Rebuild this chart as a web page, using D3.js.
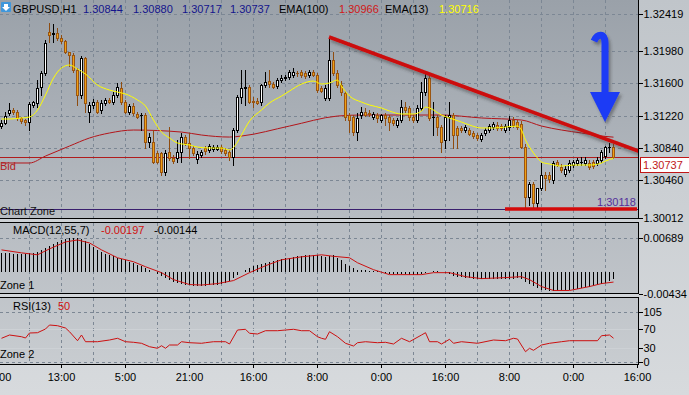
<!DOCTYPE html>
<html><head><meta charset="utf-8">
<script src="https://cdn.jsdelivr.net/npm/d3@7"></script>
<style>
html,body{margin:0;padding:0;overflow:hidden;background:#cdd1d5}
svg{display:block;font-family:"Liberation Sans",Arial,sans-serif;font-size:11px}
</style></head><body>
<svg id="c" width="689" height="395"></svg>
<script>
// ---------- DATA ----------
const symbol = "GBPUSD,H1";
const lastOHLC = [1.30844, 1.30880, 1.30717, 1.30737];
const ema100Last = 1.30966, ema13Last = 1.30716;
const bidPrice = 1.30737;
const lowLevel = 1.30118;

const timeLabels = ["21:00","13:00","5:00","21:00","16:00","8:00","0:00","16:00","8:00","0:00","16:00"];
const timeLabelIdx = [-1,15,31,47,63,79,95,111,127,143,159];
const priceTicks = [1.32419,1.31980,1.31600,1.31220,1.30840,1.30460,1.30012];
const priceGrid = [1.32419,1.31980,1.31600,1.31220,1.30840,1.30460];
const macdTicks = [0.00689,-0.00434];
const rsiTicks = [105,70,30,0];

const open = [
1.31097,1.31133,1.31251,1.31286,1.31262,1.31192,1.31168,1.31144,1.31345,1.31369,
1.31557,1.31723,1.32206,1.32183,1.32195,1.32136,1.32100,1.31970,1.31935,1.31758,
1.31463,1.31900,1.31262,1.31345,1.31380,1.31286,1.31369,1.31404,1.31380,1.31463,
1.31546,1.31380,1.31262,1.31333,1.31239,1.31227,1.31227,1.30908,1.30908,1.30779,
1.30779,1.30554,1.30790,1.30720,1.30720,1.30790,1.30967,1.30897,1.30838,1.30708,
1.30755,1.30838,1.30814,1.30826,1.30826,1.30849,1.30814,1.30790,1.30731,1.31050,
1.31439,1.31546,1.31557,1.31392,1.31392,1.31380,1.31581,1.31628,1.31593,1.31569,
1.31640,1.31664,1.31675,1.31699,1.31723,1.31734,1.31723,1.31699,1.31734,1.31699,
1.31546,1.31428,1.31428,1.31876,1.31723,1.31581,1.31487,1.31227,1.31203,1.31026,
1.31227,1.31262,1.31251,1.31203,1.31227,1.31168,1.31227,1.31203,1.31168,1.31109,
1.31168,1.31321,1.31310,1.31203,1.31168,1.31310,1.31498,1.31664,1.31203,1.31203,
1.31085,1.30932,1.31203,1.31227,1.31074,1.31074,1.31050,1.31050,1.31015,1.30991,
1.30944,1.31015,1.31050,1.31085,1.31109,1.31097,1.31050,1.31085,1.31168,1.31144,
1.31121,1.30849,1.30259,1.30413,1.30189,1.30366,1.30519,1.30519,1.30460,1.30672,
1.30613,1.30531,1.30578,1.30637,1.30661,1.30672,1.30661,1.30661,1.30672,1.30661,
1.30696,1.30743,1.30849,1.30844];
const high = [
1.31168,1.31262,1.31369,1.31310,1.31286,1.31203,1.31180,1.31380,1.31392,1.31640,
1.31746,1.32112,1.32313,1.32301,1.32254,1.32171,1.32112,1.31970,1.31959,1.31782,
1.31923,1.31911,1.31380,1.31416,1.31404,1.31404,1.31428,1.31428,1.31498,1.31605,
1.31616,1.31404,1.31357,1.31369,1.31262,1.31251,1.31251,1.31015,1.31050,1.30802,
1.30790,1.30814,1.31085,1.30755,1.30932,1.31015,1.30991,1.31015,1.30861,1.30802,
1.30814,1.30861,1.30885,1.30873,1.30873,1.30873,1.30838,1.30814,1.31074,1.31463,
1.31758,1.31758,1.31581,1.31439,1.31428,1.31593,1.31734,1.31758,1.31616,1.31664,
1.31699,1.31699,1.31758,1.31782,1.31746,1.31758,1.31746,1.31758,1.31758,1.31723,
1.31569,1.31581,1.32147,1.31970,1.31758,1.31628,1.31510,1.31251,1.31227,1.31251,
1.31321,1.31310,1.31286,1.31262,1.31251,1.31239,1.31251,1.31227,1.31192,1.31192,
1.31404,1.31380,1.31333,1.31227,1.31345,1.31616,1.31723,1.31687,1.31380,1.31227,
1.31109,1.31227,1.31380,1.31251,1.31097,1.31097,1.31109,1.31074,1.31038,1.31015,
1.31015,1.31074,1.31121,1.31144,1.31144,1.31121,1.31121,1.31215,1.31203,1.31168,
1.31156,1.30885,1.30436,1.30436,1.30366,1.30661,1.30554,1.30554,1.30684,1.30696,
1.30649,1.30625,1.30696,1.30696,1.30720,1.30731,1.30731,1.30696,1.30696,1.30731,
1.30814,1.30861,1.30897,1.30880];
const low = [
1.31074,1.31121,1.31227,1.31239,1.31168,1.31133,1.31109,1.31050,1.31321,1.31321,
1.31463,1.31699,1.32088,1.32088,1.32112,1.32077,1.31959,1.31805,1.31734,1.31345,
1.31428,1.31262,1.31144,1.31310,1.31251,1.31251,1.31345,1.31369,1.31357,1.31439,
1.31357,1.31251,1.31239,1.31227,1.31192,1.31050,1.30838,1.30849,1.30661,1.30661,
1.30519,1.30519,1.30696,1.30661,1.30672,1.30672,1.30873,1.30720,1.30755,1.30661,
1.30731,1.30767,1.30790,1.30802,1.30814,1.30779,1.30755,1.30696,1.30637,1.31026,
1.31369,1.31345,1.31369,1.31321,1.31357,1.31345,1.31557,1.31557,1.31546,1.31546,
1.31616,1.31640,1.31652,1.31675,1.31687,1.31675,1.31664,1.31675,1.31687,1.31498,
1.31498,1.31404,1.31404,1.31699,1.31557,1.31463,1.31168,1.31026,1.30991,1.30932,
1.31192,1.31215,1.31215,1.31180,1.31144,1.31144,1.31109,1.31050,1.31109,1.31085,
1.31144,1.31262,1.31168,1.31144,1.31144,1.31286,1.31463,1.31168,1.30991,1.30991,
1.30790,1.30838,1.30932,1.30838,1.30838,1.31026,1.31026,1.30991,1.30956,1.30932,
1.30920,1.30991,1.31026,1.31062,1.31050,1.31050,1.31026,1.31050,1.31085,1.31062,
1.30838,1.30141,1.30165,1.30141,1.30118,1.30342,1.30342,1.30436,1.30425,1.30625,
1.30554,1.30507,1.30554,1.30613,1.30637,1.30637,1.30637,1.30590,1.30602,1.30637,
1.30672,1.30720,1.30790,1.30717];
const close = [
1.31133,1.31215,1.31286,1.31262,1.31192,1.31156,1.31144,1.31357,1.31380,1.31546,
1.31723,1.32077,1.32171,1.32195,1.32136,1.32100,1.31970,1.31935,1.31758,1.31463,
1.31900,1.31369,1.31345,1.31380,1.31262,1.31369,1.31404,1.31380,1.31463,1.31557,
1.31380,1.31262,1.31333,1.31251,1.31203,1.31227,1.30908,1.30967,1.30672,1.30672,
1.30554,1.30779,1.30720,1.30684,1.30790,1.30967,1.30897,1.30838,1.30779,1.30767,
1.30790,1.30802,1.30861,1.30849,1.30849,1.30802,1.30779,1.30731,1.31050,1.31439,
1.31546,1.31552,1.31380,1.31380,1.31369,1.31581,1.31616,1.31593,1.31557,1.31640,
1.31664,1.31675,1.31734,1.31734,1.31718,1.31699,1.31687,1.31734,1.31699,1.31522,
1.31510,1.31546,1.31876,1.31723,1.31581,1.31498,1.31203,1.31168,1.31026,1.31192,
1.31262,1.31227,1.31239,1.31239,1.31192,1.31227,1.31192,1.31144,1.31133,1.31168,
1.31321,1.31286,1.31203,1.31168,1.31310,1.31498,1.31664,1.31192,1.31208,1.31085,
1.30908,1.31203,1.31227,1.30991,1.30991,1.31050,1.31085,1.31003,1.30979,1.30956,
1.30991,1.31050,1.31097,1.31121,1.31074,1.31074,1.31097,1.31168,1.31109,1.31085,
1.30849,1.30259,1.30413,1.30189,1.30366,1.30519,1.30484,1.30472,1.30661,1.30637,
1.30578,1.30590,1.30661,1.30672,1.30696,1.30676,1.30696,1.30613,1.30625,1.30696,
1.30790,1.30849,1.30853,1.30737];

const ema13Idx = [0,2,5,7,9,11,13,15,17,19,21,24,27,29,31,34,36,38,40,42,44,47,49,52,55,57,59,60,62,65,67,70,72,75,78,80,82,84,85,87,90,92,95,97,100,103,105,106,107,110,112,115,117,120,123,126,129,130,131,132,133,134,135,137,140,143,147,150,151,153];
const ema13 = [1.31180,1.31180,1.31192,1.31203,1.31286,1.31463,1.31664,1.31782,1.31817,1.31770,1.31711,1.31581,1.31522,1.31498,1.31475,1.31404,1.31333,1.31168,1.31026,1.30956,1.30897,1.30873,1.30849,1.30838,1.30838,1.30814,1.30908,1.30991,1.31156,1.31286,1.31369,1.31451,1.31510,1.31593,1.31628,1.31593,1.31605,1.31640,1.31569,1.31451,1.31380,1.31345,1.31310,1.31274,1.31239,1.31239,1.31274,1.31321,1.31310,1.31227,1.31192,1.31144,1.31109,1.31074,1.31074,1.31085,1.31097,1.31050,1.30932,1.30849,1.30779,1.30720,1.30672,1.30649,1.30625,1.30637,1.30637,1.30661,1.30684,1.30716];
const ema100Idx = [0,7,11,17,22,27,33,45,50,57,60,72,84,90,110,120,130,135,140,145,150,153];
const ema100 = [1.30661,1.30661,1.30743,1.30861,1.30956,1.31015,1.31050,1.31026,1.30991,1.30967,1.30979,1.31097,1.31215,1.31227,1.31227,1.31192,1.31168,1.31097,1.31050,1.31015,1.30979,1.30966];

const macdHist = [
0.00384,0.00384,0.00384,0.00364,0.00364,0.00364,0.00364,0.00384,0.00384,0.00404,
0.00443,0.00483,0.00522,0.00561,0.00601,0.00640,0.00660,0.00680,0.00680,0.00680,
0.00660,0.00621,0.00561,0.00502,0.00443,0.00404,0.00364,0.00345,0.00325,0.00286,
0.00266,0.00246,0.00207,0.00187,0.00148,0.00128,0.00089,0.00049,0.00010,-0.00030,
-0.00069,-0.00108,-0.00148,-0.00187,-0.00207,-0.00227,-0.00246,-0.00246,-0.00266,-0.00266,
-0.00266,-0.00266,-0.00246,-0.00246,-0.00246,-0.00227,-0.00207,-0.00167,-0.00108,-0.00049,
0.00010,0.00049,0.00089,0.00128,0.00148,0.00167,0.00187,0.00207,0.00227,0.00246,
0.00266,0.00286,0.00286,0.00305,0.00325,0.00325,0.00345,0.00345,0.00345,0.00345,
0.00325,0.00305,0.00325,0.00345,0.00286,0.00246,0.00167,0.00128,0.00089,0.00049,
0.00049,0.00049,0.00030,0.00030,0.00030,0.00010,-0.00010,-0.00030,-0.00030,-0.00030,
-0.00030,-0.00030,-0.00049,-0.00049,-0.00049,-0.00030,-0.00010,0.00010,0.00030,0.00030,
0.00010,-0.00010,-0.00030,-0.00069,-0.00089,-0.00089,-0.00108,-0.00108,-0.00128,-0.00128,
-0.00128,-0.00128,-0.00128,-0.00128,-0.00128,-0.00128,-0.00128,-0.00128,-0.00128,-0.00108,
-0.00128,-0.00187,-0.00227,-0.00266,-0.00305,-0.00345,-0.00364,-0.00384,-0.00384,-0.00384,
-0.00364,-0.00364,-0.00345,-0.00325,-0.00325,-0.00305,-0.00286,-0.00286,-0.00266,-0.00246,
-0.00227,-0.00207,-0.00167,-0.00144];
const sigIdx = [0,5,9,12,16,19,22,25,29,33,36,40,43,47,50,54,58,62,66,70,75,80,83,87,89,93,97,105,108,112,116,120,126,130,132,135,138,142,147,150,153];
const macdSignal = [0.00443,0.00384,0.00345,0.00463,0.00601,0.00640,0.00581,0.00443,0.00286,0.00207,0.00108,-0.00010,-0.00148,-0.00246,-0.00256,-0.00227,-0.00167,-0.00010,0.00128,0.00246,0.00305,0.00345,0.00315,0.00286,0.00187,0.00049,-0.00049,-0.00049,-0.00010,-0.00010,-0.00089,-0.00128,-0.00108,-0.00089,-0.00148,-0.00286,-0.00364,-0.00364,-0.00286,-0.00227,-0.00197];

const rsiIdx = [0,2,5,6,7,9,11,12,14,16,17,19,20,21,24,27,29,31,33,35,37,39,40,41,42,44,45,47,50,51,53,56,57,59,61,62,64,66,69,71,73,75,77,79,80,81,82,84,86,88,89,91,94,96,98,100,102,105,106,107,109,110,112,113,115,119,123,126,128,129,131,132,133,135,137,140,142,149,150,152,153];
const rsi = [49.8,56.7,53.1,50.4,60.9,61.5,69.3,77.7,76.2,71.4,63.6,44.7,56.7,42.6,42.6,46.2,49.8,42.6,41.4,39.3,32.1,28.8,34.2,28.8,35.7,35.7,42.6,40.5,39.3,40.5,42.6,42.6,37.8,67.2,68.7,60.3,58.8,65.7,65.7,67.2,68.7,65.7,65.7,53.1,49.8,47.7,63.6,53.1,39.3,33.6,40.5,42.6,40.5,41.4,37.8,49.8,42.6,56.7,61.5,42.6,42.6,37.8,47.7,39.3,42.6,39.3,46.2,44.7,49.8,48.3,21.6,28.8,24.6,35.7,39.3,42.6,44.7,44.7,55.2,56.7,50];

// annotations (bar index, price)
const trendLine = [[82,1.32147],[160,1.30790]];
const supportLine = [[126,1.30118],[159,1.30118]];
const arrowMark = {idx:151, top:1.32171, tip:1.31144};

// ---------- DRAW ----------
const svg = d3.select('#c');
const W = 689, H = 395, PR = 638;
const xs = d3.scaleLinear().domain([-1,159]).range([-3,637]);
const yMain = d3.scaleLinear().domain([1.30012,1.32419]).range([218,14]);
const yMacd = d3.scaleLinear().domain([-0.00434,0.00689]).range([294,237.5]);
const yRsi = d3.scaleLinear().domain([0,105]).range([362,312]);
const FONT = '"Liberation Sans",Arial,sans-serif';

const defs = svg.append('defs');
const og = defs.append('linearGradient').attr('id','og').attr('gradientUnits','userSpaceOnUse')
  .attr('x1',0).attr('y1',0).attr('x2',0).attr('y2',H);
og.append('stop').attr('offset',0).attr('stop-color','#c0c5ca');
og.append('stop').attr('offset',1).attr('stop-color','#d7dadd');
const pg = defs.append('linearGradient').attr('id','pg').attr('gradientUnits','userSpaceOnUse')
  .attr('x1',0).attr('y1',0).attr('x2',0).attr('y2',364);
pg.append('stop').attr('offset',0).attr('stop-color','#9aa1a9');
pg.append('stop').attr('offset',0.6).attr('stop-color','#b7bcc2');
pg.append('stop').attr('offset',1).attr('stop-color','#c8ccd0');
const sh = defs.append('filter').attr('id','sh').attr('x','-20%').attr('y','-20%').attr('width','150%').attr('height','160%');
sh.append('feDropShadow').attr('dx',2).attr('dy',3).attr('stdDeviation',1.6)
  .attr('flood-color','#303030').attr('flood-opacity',0.45);
defs.append('clipPath').attr('id','cm').append('rect').attr('x',0).attr('y',0).attr('width',PR).attr('height',218);
defs.append('clipPath').attr('id','cd').append('rect').attr('x',0).attr('y',223).attr('width',PR).attr('height',70);
defs.append('clipPath').attr('id','cr').append('rect').attr('x',0).attr('y',298).attr('width',PR).attr('height',66);

svg.append('rect').attr('width',W).attr('height',H).attr('fill','url(#og)');

const panels = [{y0:0,y1:218},{y0:222,y1:293},{y0:297,y1:364}];
panels.forEach(p => {
  svg.append('rect').attr('x',0).attr('y',p.y0).attr('width',PR).attr('height',p.y1-p.y0).attr('fill','url(#pg)');
});

const grid = svg.append('g').attr('stroke','#7c8794').attr('stroke-width',1)
  .attr('stroke-dasharray','3,3').attr('shape-rendering','crispEdges');
const vIdx = d3.range(1,20).map(k => -1 + 8*k);
panels.forEach(p => {
  grid.selectAll(null).data(vIdx).enter().append('line')
    .attr('x1',d=>Math.round(xs(d))+0.5).attr('x2',d=>Math.round(xs(d))+0.5)
    .attr('y1',p.y0+(p.y0?1:0)).attr('y2',p.y1);
});
grid.selectAll(null).data(priceGrid).enter().append('line')
  .attr('x1',0).attr('x2',PR).attr('y1',d=>Math.round(yMain(d))+0.5).attr('y2',d=>Math.round(yMain(d))+0.5);
grid.append('line').attr('x1',0).attr('x2',PR).attr('y1',Math.round(yMacd(macdTicks[0]))+0.5).attr('y2',Math.round(yMacd(macdTicks[0]))+0.5);
grid.selectAll(null).data([105,0]).enter().append('line')
  .attr('x1',0).attr('x2',PR).attr('y1',d=>Math.round(yRsi(d))+0.5).attr('y2',d=>Math.round(yRsi(d))+0.5);
svg.append('g').attr('stroke','#cdd1d5').attr('stroke-width',1).attr('shape-rendering','crispEdges')
  .selectAll(null).data([70,30]).enter().append('line')
  .attr('x1',0).attr('x2',PR).attr('y1',d=>Math.round(yRsi(d))+0.5).attr('y2',d=>Math.round(yRsi(d))+0.5);

// ---- main panel
const gm = svg.append('g').attr('clip-path','url(#cm)');
// bid line & low level
gm.append('line').attr('x1',0).attr('x2',PR).attr('y1',Math.round(yMain(bidPrice))+0.5).attr('y2',Math.round(yMain(bidPrice))+0.5)
  .attr('stroke','#b01c1c').attr('shape-rendering','crispEdges');
gm.append('line').attr('x1',0).attr('x2',PR).attr('y1',Math.round(yMain(lowLevel))+0.5).attr('y2',Math.round(yMain(lowLevel))+0.5)
  .attr('stroke','#3a1f6e').attr('shape-rendering','crispEdges');

const lineMain = (idx, vals) => d3.line().x((d,i)=>xs(idx[i])+0.5).y(d=>yMain(d)).curve(d3.curveMonotoneX)(vals);
gm.append('path').attr('d',lineMain(ema100Idx,ema100)).attr('fill','none').attr('stroke','#b3151a').attr('stroke-width',1);

const candles = d3.range(open.length).map(i => ({i,o:open[i],h:high[i],l:low[i],c:close[i]}));
const cg = gm.append('g').attr('shape-rendering','crispEdges');
candles.forEach(d => {
  const cx = Math.round(xs(d.i));
  const bull = d.c >= d.o;
  const yO = Math.round(yMain(d.o)), yC = Math.round(yMain(d.c));
  const yH = Math.round(yMain(d.h)), yL = Math.round(yMain(d.l));
  const wc = bull ? '#000000' : '#8e4c10';
  cg.append('line').attr('x1',cx+0.5).attr('x2',cx+0.5).attr('y1',yH).attr('y2',yL+1).attr('stroke',wc);
  const top = Math.min(yO,yC), bot = Math.max(yO,yC);
  if (bot - top < 1) {
    cg.append('line').attr('x1',cx-1).attr('x2',cx+2).attr('y1',top+0.5).attr('y2',top+0.5).attr('stroke',wc);
  } else {
    cg.append('rect').attr('x',cx-0.5).attr('y',top+0.5).attr('width',2).attr('height',bot-top)
      .attr('fill', bull ? '#ffffff' : '#f0a014').attr('stroke', bull ? '#000000' : '#9a5512');
  }
});
gm.append('path').attr('d',lineMain(ema13Idx,ema13)).attr('fill','none').attr('stroke','#ffff00').attr('stroke-width',1);

// annotations
gm.append('line').attr('x1',xs(trendLine[0][0])).attr('y1',yMain(trendLine[0][1]))
  .attr('x2',xs(trendLine[1][0])).attr('y2',yMain(trendLine[1][1]))
  .attr('stroke','#cc0a0a').attr('stroke-width',3.6).attr('filter','url(#sh)');
gm.append('line').attr('x1',xs(supportLine[0][0])).attr('y1',yMain(supportLine[0][1]))
  .attr('x2',xs(supportLine[1][0])).attr('y2',yMain(supportLine[1][1]))
  .attr('stroke','#d40a0a').attr('stroke-width',3.6);
{
  const cx = xs(arrowMark.idx), yt = yMain(arrowMark.top), yb = yMain(arrowMark.tip);
  const ga = gm.append('g').attr('filter','url(#sh)');
  ga.append('path').attr('d',`M${cx-11},${yt+6} C${cx-8},${yt-1} ${cx},${yt-3} ${cx},${yt+8} L${cx},${yb-28}`)
    .attr('fill','none').attr('stroke','#1a3af5').attr('stroke-width',7);
  ga.append('path').attr('d',`M${cx-15},${yb-30} L${cx+15},${yb-30} L${cx},${yb} Z`).attr('fill','#1a3af5');
}

// texts in main panel
svg.append('text').attr('x',0).attr('y',170).attr('fill','#b22222').text('Bid');
svg.append('text').attr('x',0).attr('y',215).attr('fill','#111').text('Chart Zone');
svg.append('text').attr('x',597).attr('y',206).attr('fill','#55309a').text(lowLevel.toFixed(5));

// header
svg.append('rect').attr('x',1).attr('y',2).attr('width',10).attr('height',10).attr('rx',1).attr('fill','#3f97db');
svg.append('path').attr('d','M4,4 L8,4 L8,7 L10,7 L6,11 L2,7 L4,7 Z').attr('fill','#ffffff');
const hdr = [
  {t:symbol, x:13, c:'#000'},
  {t:lastOHLC[0].toFixed(5), x:83, c:'#14148c'},
  {t:lastOHLC[1].toFixed(5), x:133, c:'#14148c'},
  {t:lastOHLC[2].toFixed(5), x:182, c:'#14148c'},
  {t:lastOHLC[3].toFixed(5), x:230, c:'#14148c'},
  {t:'EMA(100)', x:279, c:'#000'},
  {t:ema100Last.toFixed(5), x:339, c:'#d01818'},
  {t:'EMA(13)', x:385, c:'#000'},
  {t:ema13Last.toFixed(5), x:439, c:'#ffff00'}
];
svg.selectAll(null).data(hdr).enter().append('text').attr('x',d=>d.x).attr('y',13).attr('fill',d=>d.c).text(d=>d.t);

// ---- MACD panel
const gd = svg.append('g').attr('clip-path','url(#cd)');
const z0 = Math.round(yMacd(0));
gd.append('g').attr('stroke','#000').attr('shape-rendering','crispEdges')
  .selectAll('line').data(macdHist).enter().append('line')
  .attr('x1',(d,i)=>Math.round(xs(i))+0.5).attr('x2',(d,i)=>Math.round(xs(i))+0.5)
  .attr('y1',z0).attr('y2',d=>Math.round(yMacd(d)));
gd.append('path').attr('d', d3.line().x((d,i)=>xs(sigIdx[i])+0.5).y(d=>yMacd(d))(macdSignal))
  .attr('fill','none').attr('stroke','#cc1010').attr('stroke-width',1);
svg.append('text').attr('x',13).attr('y',234).attr('fill','#000').text('MACD(12,55,7)');
svg.append('text').attr('x',101).attr('y',234).attr('fill','#d01010').text(macdSignal[macdSignal.length-1].toFixed(5));
svg.append('text').attr('x',154).attr('y',234).attr('fill','#000').text(macdHist[macdHist.length-1].toFixed(5));
svg.append('text').attr('x',0).attr('y',289).attr('fill','#000').text('Zone 1');

// ---- RSI panel
const gr = svg.append('g').attr('clip-path','url(#cr)');
gr.append('path').attr('d', d3.line().x((d,i)=>xs(rsiIdx[i])+0.5).y(d=>yRsi(d))(rsi))
  .attr('fill','none').attr('stroke','#cc1010').attr('stroke-width',1);
svg.append('text').attr('x',13).attr('y',310).attr('fill','#000').text('RSI(13)');
svg.append('text').attr('x',58).attr('y',310).attr('fill','#d01010').text(String(rsi[rsi.length-1]));
svg.append('text').attr('x',0).attr('y',358).attr('fill','#000').text('Zone 2');

// ---- borders
const bd = svg.append('g').attr('stroke','#000').attr('shape-rendering','crispEdges');
bd.append('line').attr('x1',0).attr('x2',PR+1).attr('y1',218.5).attr('y2',218.5);
bd.append('line').attr('x1',0).attr('x2',PR+1).attr('y1',222.5).attr('y2',222.5);
bd.append('line').attr('x1',0).attr('x2',PR+1).attr('y1',293.5).attr('y2',293.5);
bd.append('line').attr('x1',0).attr('x2',PR+1).attr('y1',297.5).attr('y2',297.5);
bd.append('line').attr('x1',0).attr('x2',PR+1).attr('y1',364.5).attr('y2',364.5);
bd.append('line').attr('x1',PR+0.5).attr('x2',PR+0.5).attr('y1',0).attr('y2',219);
bd.append('line').attr('x1',PR+0.5).attr('x2',PR+0.5).attr('y1',222).attr('y2',294);
bd.append('line').attr('x1',PR+0.5).attr('x2',PR+0.5).attr('y1',297).attr('y2',365);

// ---- axes
function styleAxis(g){
  g.attr('font-family',FONT).attr('font-size',11);
  g.select('.domain').remove();
  g.selectAll('text').attr('fill','#000');
  g.selectAll('.tick line').attr('stroke','#000').attr('shape-rendering','crispEdges');
}
svg.append('g').attr('transform',`translate(${PR+0.5},0)`)
  .call(d3.axisRight(yMain).tickValues(priceTicks).tickSize(4).tickPadding(1).tickFormat(d=>d.toFixed(5))).call(styleAxis);
svg.append('g').attr('transform',`translate(${PR+0.5},0)`)
  .call(d3.axisRight(yMacd).tickValues(macdTicks).tickSize(4).tickPadding(1).tickFormat(d=>d.toFixed(5))).call(styleAxis);
svg.append('g').attr('transform',`translate(${PR+0.5},0)`)
  .call(d3.axisRight(yRsi).tickValues(rsiTicks).tickSize(4).tickPadding(1).tickFormat(d=>String(d))).call(styleAxis);
svg.append('g').attr('transform','translate(0,364.5)')
  .call(d3.axisBottom(xs).tickValues(timeLabelIdx).tickSize(3).tickPadding(6).tickFormat((d,i)=>timeLabels[i])).call(styleAxis);

// bid price label
{
  const yb = Math.round(yMain(bidPrice));
  svg.append('rect').attr('x',640.5).attr('y',yb+0.5).attr('width',52).attr('height',15)
    .attr('fill','#ffffff').attr('stroke','#c01818').attr('shape-rendering','crispEdges');
  svg.append('text').attr('x',643).attr('y',yb+12).attr('fill','#c01818').text(bidPrice.toFixed(5));
}
</script>
</body></html>
